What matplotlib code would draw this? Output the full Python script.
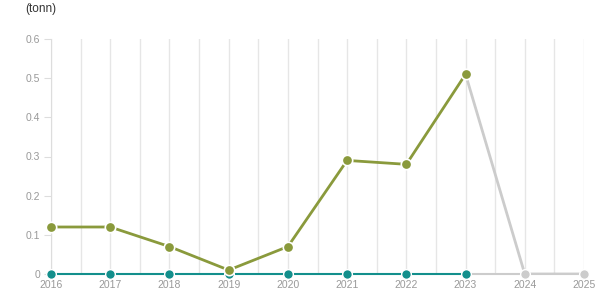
import numpy as np
import matplotlib
matplotlib.use("Agg")
import matplotlib.pyplot as plt

plt.rcParams["font.family"] = ["Liberation Sans", "DejaVu Sans"]

# data
years       = [2016, 2017, 2018, 2019, 2020, 2021, 2022, 2023, 2024, 2025]
catch_main  = [0.12, 0.12, 0.07, 0.01, 0.07, 0.29, 0.28, 0.51, 0.0, 0.0]
catch_other = [0, 0, 0, 0, 0, 0, 0, 0, 0, 0]
n_actual    = 8   # years up to 2023 are actual, rest greyed out
y_ticks     = [0, 0.1, 0.2, 0.3, 0.4, 0.5, 0.6]
y_labels    = ["0", "0.1", "0.2", "0.3", "0.4", "0.5", "0.6"]

GREEN = "#8a9a3c"
TEAL  = "#138f8c"
GREY  = "#cccccc"

fig = plt.figure(figsize=(6.15, 3.05), dpi=100)
ax = fig.add_axes([51/615, 31/305, 533/615, 235/305])

yrs = np.array(years)
# grey projection part
ax.plot(yrs[n_actual-1:], catch_main[n_actual-1:], color=GREY, lw=2, zorder=3)
ax.plot(yrs[n_actual-1:], catch_other[n_actual-1:], color=GREY, lw=1.5, zorder=3,
        clip_on=False)
ax.plot(yrs[n_actual:], catch_other[n_actual:], "o", color=GREY, ms=7,
        mec="white", mew=1, zorder=4, clip_on=False)

# actual
ax.plot(yrs[:n_actual], catch_other[:n_actual], color=TEAL, lw=1.5, zorder=4,
        clip_on=False)
ax.plot(yrs[:n_actual], catch_other[:n_actual], "o", color=TEAL, ms=7,
        mec="white", mew=1, zorder=5, clip_on=False)
ax.plot(yrs[:n_actual], catch_main[:n_actual], color=GREEN, lw=2, zorder=5)
ax.plot(yrs[:n_actual], catch_main[:n_actual], "o", color=GREEN, ms=7.5,
        mec="white", mew=1.2, zorder=6, clip_on=False)

ax.set_xlim(years[0], years[-1])
ax.set_ylim(0, 0.6)
ax.set_xticks(years)
ax.set_xticklabels([str(y) for y in years])
ax.set_xticks(np.arange(years[0] + 0.5, years[-1], 1.0), minor=True)
ax.set_yticks(y_ticks)
ax.set_yticklabels(y_labels)

ax.grid(axis="x", which="both", color="#e6e6e6", lw=1, zorder=0)
for s in ["top", "right", "bottom"]:
    ax.spines[s].set_visible(False)
ax.spines["left"].set_color("#dddddd")
ax.tick_params(axis="x", which="both", length=0, labelsize=7.5, colors="#999999", pad=4)
ax.tick_params(axis="y", length=5, color="#dddddd", labelsize=7.5, colors="#999999", pad=3)

fig.text(25/615, 1 - 9/305, "(tonn)", fontsize=8.5, color="#333333", va="center", ha="left")

fig.savefig("out.png", dpi=100)
